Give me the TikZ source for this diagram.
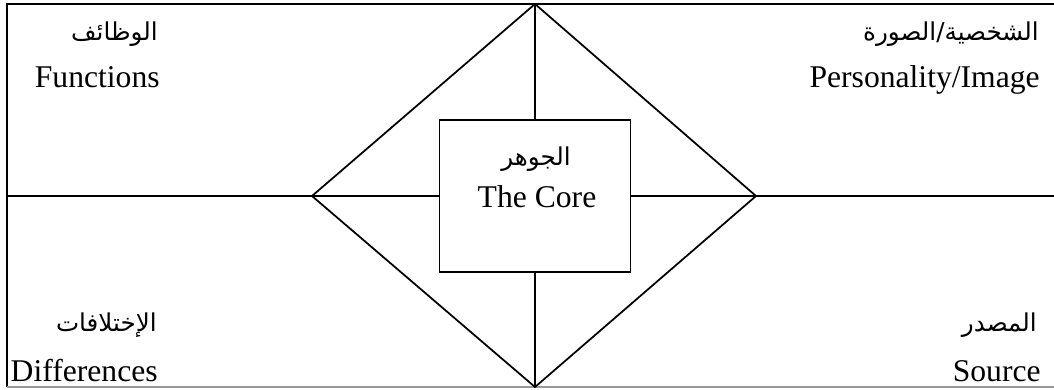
\documentclass[tikz,border=0pt]{standalone}
\usepackage{fontspec}
\setmainfont{Liberation Serif}
\newfontfamily\arabicfont[Script=Arabic]{DejaVu Sans}
\TeXXeTstate=1
\usetikzlibrary{positioning}

\tikzset{
  edge/.style={line width=1pt},
  corebox/.style={draw, line width=1pt, fill=white, minimum width=3.82cm, minimum height=3.04cm, inner sep=0pt},
  enlabel/.style={anchor=base east, inner sep=0pt, font=\fontsize{18}{22}\selectfont},
  arlabel/.style={anchor=base east, inner sep=0pt, font=\fontsize{14}{18}\selectfont\arabicfont},
}

\begin{document}
\begin{tikzpicture}[x=0.02cm, y=-0.02cm]
\useasboundingbox (0,0) rectangle (1054,389);
% frame
\draw [line width=1.4pt] (7,387) -- (7,4) -- (1054,4);
\draw [black!40, line width=0.9pt] (7,387) -- (1054,387);
% diamond corners and line ends
\coordinate (top) at (535,4);
\coordinate (left) at (312,196);
\coordinate (bottom) at (535,387);
\coordinate (right) at (756,196);
\coordinate (westend) at (7,196);
\coordinate (eastend) at (1054,196);
\draw [edge] (top) -- (left) -- (bottom) -- (right) -- cycle;
% the core
\node (core) at (535,196) [corebox] {};
\draw [edge] (westend) -- (core.west);
\draw [edge] (core.east) -- (eastend);
\draw [edge] (top) -- (core.north);
\draw [edge] (core.south) -- (bottom);
\node (coreAr) at (536,165) [arlabel, anchor=base] {\beginR الجوهر\endR};
\node (coreEn) at (537,207) [enlabel, anchor=base] {The Core};
% corners
\node (funcAr) at (158,40) [arlabel] {\beginR الوظائف\endR};
\node (funcEn) at (160,87) [enlabel] {Functions};
\node (persAr) at (1039,40) [arlabel] {\beginR الشخصية/الصورة\endR};
\node (persEn) at (1040,87) [enlabel] {Personality/Image};
\node (diffAr) at (157,331) [arlabel] {\beginR الإختلافات\endR};
\node (diffEn) at (158,381) [enlabel] {Differences};
\node (srcAr) at (1037,331) [arlabel] {\beginR المصدر\endR};
\node (srcEn) at (1041,381) [enlabel] {Source};
\end{tikzpicture}
\end{document}
